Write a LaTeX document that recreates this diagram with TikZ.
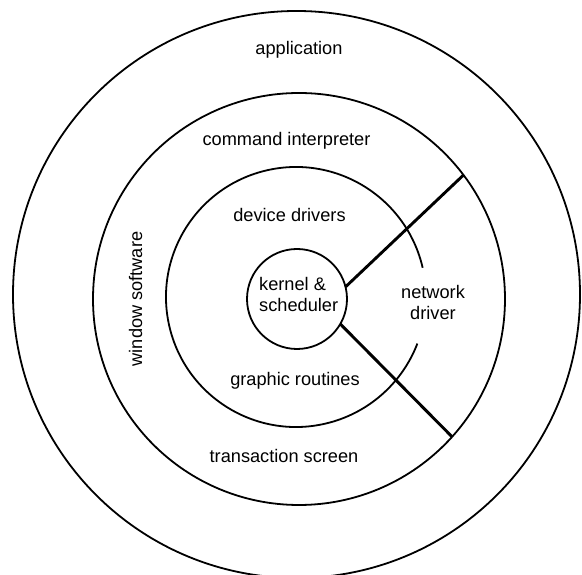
\documentclass[tikz,border=0pt]{standalone}
\usepackage{fontspec}
\setmainfont{Liberation Sans}
\begin{document}
\begin{tikzpicture}[x=1pt,y=1pt,
  ring/.style={circle, inner sep=0pt, outer sep=0pt, line width=1.8pt},
  spoke/.style={line width=2.9pt},
  lbl/.style={font=\fontsize{18.2}{21}\selectfont, align=center, inner sep=0pt}]
\useasboundingbox (0,0) rectangle (582,575);
% rings
\node (outer)  [ring, draw, minimum size=567pt] at (296.5,280.5) {};
\node (window) [ring, draw, minimum size=412pt] at (299,276) {};
\node (dev)    [ring, minimum size=260pt] at (296,278) {};
\node (inner)  [ring, draw, minimum size=100pt] at (297,276) {};
% device-driver ring, open on the right
\draw[line width=1.8pt] (dev.13) arc[start angle=13, end angle=339, radius=130pt];
% spokes
\draw[spoke] (inner.14) -- (window.37);
\draw[spoke] (inner.-30) -- (window.-42);
% labels
\node (lapp) [lbl] at (299,525) {application};
\node (lcmd) [lbl] at (286.5,434) {command interpreter};
\node (ldev) [lbl] at (289.5,360) {device drivers};
\node (lker) [lbl, align=left, anchor=west] at (259,280.5) {kernel \&\\scheduler};
\node (lnet) [lbl] at (433,272.5) {network\\driver};
\node (lgra) [lbl] at (295,194.5) {graphic routines};
\node (ltra) [lbl] at (284,118.5) {transaction screen};
\node (lwin) [lbl, rotate=90] at (135.5,276) {window software};
\end{tikzpicture}
\end{document}
